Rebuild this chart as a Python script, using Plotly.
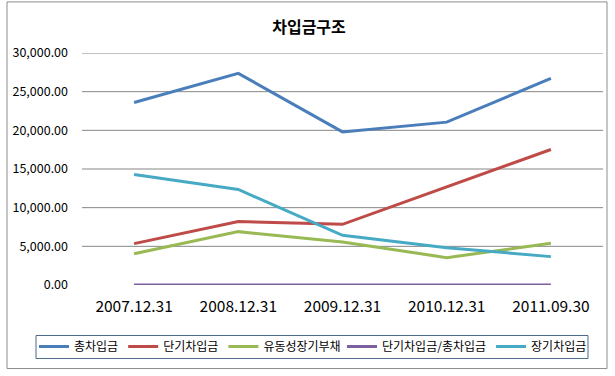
import plotly.graph_objects as go

categories = ["2007.12.31", "2008.12.31", "2009.12.31", "2010.12.31", "2011.09.30"]
total_borrowings = [23600, 27370, 19800, 21060, 26720]       # 총차입금
short_term = [5350, 8200, 7850, 12700, 17520]                # 단기차입금
current_long_term = [4050, 6900, 5560, 3540, 5390]           # 유동성장기부채
short_ratio = [0.23, 0.30, 0.40, 0.60, 0.66]                 # 단기차입금/총차입금
long_term = [14290, 12350, 6420, 4830, 3670]                 # 장기차입금

series_names = ["총차입금", "단기차입금", "유동성장기부채", "단기차입금/총차입금", "장기차입금"]
series_values = [total_borrowings, short_term, current_long_term, short_ratio, long_term]
colors = ["#4A7EBB", "#BE4B48", "#98B954", "#7D60A0", "#46AAC5"]
legend_groups = ["legend", "legend", "legend", "legend2", "legend2"]
y_ticks = [0, 5000, 10000, 15000, 20000, 25000, 30000]

FONT = "Noto Sans CJK KR"

fig = go.Figure()
for name, vals, col, lg in zip(series_names, series_values, colors, legend_groups):
    fig.add_trace(go.Scatter(x=categories, y=vals, name=name, mode="lines",
                             line=dict(color=col, width=3), legend=lg))

# gridlines (Excel hides the one at zero under the series)
for v in y_ticks[1:]:
    fig.add_shape(type="line", xref="paper", yref="y", x0=0, x1=1, y0=v, y1=v,
                  line=dict(color="#868686", width=1), layer="below")

# chart area border
L, R, T, B = 82, 603, 53, 284.6
W, H = R - L, B - T
def px(x): return (x - L) / W
def py(y): return (B - y) / H
fig.add_shape(type="rect", xref="paper", yref="paper",
              x0=px(7), x1=px(607), y0=py(368), y1=py(2),
              line=dict(color="#8C8C8C", width=1), layer="below")
# legend box
fig.add_shape(type="rect", xref="paper", yref="paper",
              x0=px(36), x1=px(588), y0=py(358), y1=py(335),
              line=dict(color="#4D6A8A", width=1), layer="below")

leg_common = dict(orientation="h", xref="container", yref="container",
                  xanchor="left", yanchor="middle", y=1 - 346.5 / 376,
                  font=dict(size=12, family=FONT), borderwidth=0,
                  bgcolor="rgba(0,0,0,0)", itemwidth=30, tracegroupgap=0)

fig.update_layout(
    width=615, height=376,
    margin=dict(l=L, r=615 - R, t=T, b=376 - B, autoexpand=False),
    paper_bgcolor="white", plot_bgcolor="white",
    font=dict(family=FONT, color="#000000"),
    title=dict(text="차입금구조", x=309 / 615, xanchor="center", y=1 - 27 / 376, yanchor="middle",
               xref="container", yref="container",
               font=dict(size=16, family=FONT, weight="bold")),
    xaxis=dict(type="category", range=[-0.5, 4.5], showgrid=False, showline=False, zeroline=False,
               tickfont=dict(size=15.5, family=FONT), ticks="", ticklabelstandoff=10,
               automargin=False),
    yaxis=dict(range=[0, 30000], tickvals=y_ticks, tickformat=",.2f", showgrid=False,
               zeroline=False, showline=False, ticks="", automargin=False,
               tickfont=dict(size=12.5, family=FONT), ticklabelstandoff=13),
    legend=dict(x=34 / 615, **leg_common),
    legend2=dict(x=342 / 615, **leg_common),
    showlegend=True,
)

fig.write_html("out.html", config={"displayModeBar": False},
               post_script="document.body.style.margin='0';document.body.style.overflow='hidden';")
